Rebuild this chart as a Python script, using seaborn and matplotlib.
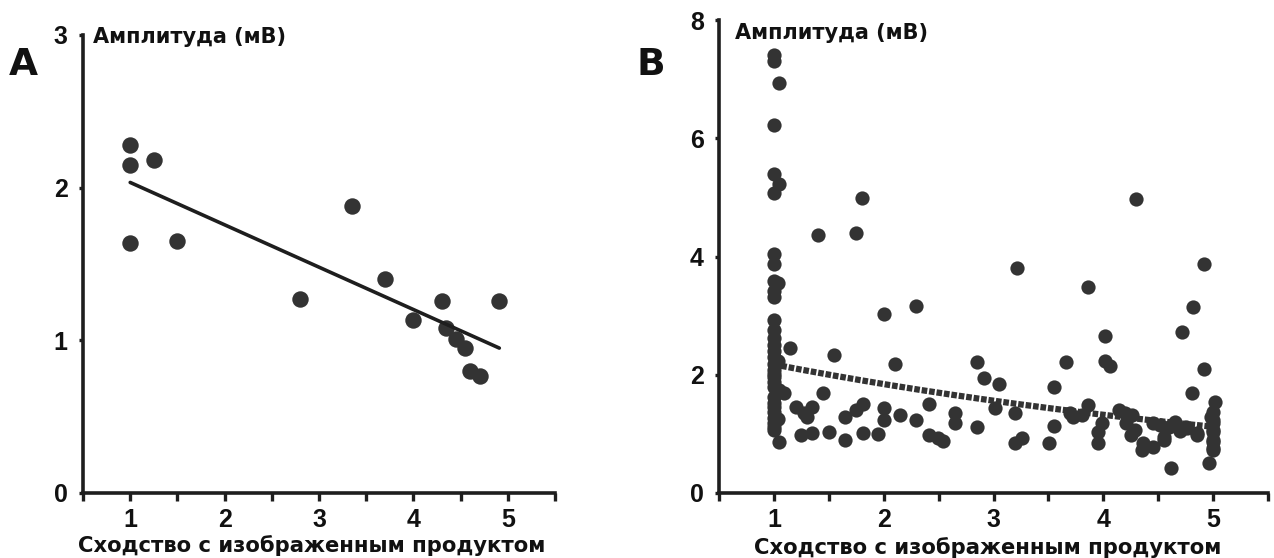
import numpy as np
import pandas as pd
import seaborn as sns
import matplotlib.pyplot as plt
from matplotlib.ticker import MultipleLocator

# ---------------- data ----------------
# Panel A
a_x = [1.0, 1.0, 1.25, 1.0, 1.5, 2.8, 3.35, 3.7, 4.0, 4.3, 4.35, 4.45, 4.55, 4.6, 4.71, 4.91]
a_y = [2.28, 2.15, 2.18, 1.64, 1.65, 1.27, 1.88, 1.40, 1.13, 1.26, 1.08, 1.01, 0.95, 0.80, 0.765, 1.26]

# Panel B - column at x = 1
b_col1_y = [7.40, 7.30, 6.22, 5.40, 5.08, 4.05, 3.88, 3.59, 3.42, 3.31, 2.92, 2.75, 2.63,
            2.50, 2.40, 2.30, 2.19, 2.08, 2.02, 1.96, 1.88, 1.79, 1.62, 1.52, 1.45, 1.37,
            1.27, 1.18, 1.12, 1.06]
# Panel B - remaining points
b_x = [1.05, 1.05, 1.04, 1.05, 1.04, 1.05, 1.09, 1.04,
       1.15, 1.40, 1.75, 1.80, 1.55, 1.45, 1.20, 1.27, 1.35, 1.30,
       1.65, 1.75, 1.81, 2.00, 2.00, 2.15, 2.29, 1.25, 1.35, 1.50, 1.65, 1.81, 1.95,
       2.00, 2.29, 2.10, 3.21, 2.85, 2.91, 3.05, 3.66, 3.55, 2.41, 2.65, 2.65, 3.01,
       3.20, 2.85, 2.41, 2.49, 2.54, 3.20, 3.26, 3.55, 3.51, 3.72,
       4.92, 3.86, 4.82, 4.72, 4.02, 4.02, 4.06, 4.92, 4.81, 3.86, 3.70, 3.81, 4.14,
       4.20, 4.26, 3.99, 3.95, 3.95, 4.21, 4.29, 4.25, 4.45, 4.52, 4.65, 4.75, 4.85,
       4.36, 4.35, 4.45, 4.55, 4.62, 4.96, 4.30, 4.60, 4.70, 4.76, 4.85, 4.55,
       5.02, 5.00, 4.98, 5.00, 5.00, 5.00, 5.00, 5.00, 5.00, 5.00, 5.00]
b_y = [6.94, 5.23, 3.56, 1.74, 1.25, 0.86, 1.69, 2.24,
       2.45, 4.36, 4.39, 4.99, 2.33, 1.69, 1.45, 1.35, 1.45, 1.28,
       1.28, 1.40, 1.50, 1.43, 1.23, 1.32, 1.23, 0.98, 1.01, 1.03, 0.89, 1.01, 1.00,
       3.02, 3.17, 2.18, 3.80, 2.21, 1.94, 1.85, 2.21, 1.79, 1.50, 1.35, 1.18, 1.43,
       1.35, 1.11, 0.98, 0.93, 0.88, 0.85, 0.93, 1.13, 0.84, 1.28,
       3.88, 3.49, 3.14, 2.73, 2.65, 2.24, 2.14, 2.09, 1.69, 1.48, 1.35, 1.32, 1.41,
       1.35, 1.32, 1.18, 1.03, 0.84, 1.18, 1.06, 0.98, 1.18, 1.15, 1.20, 1.11, 1.01,
       0.84, 0.73, 0.78, 0.89, 0.42, 0.51, 4.98, 1.12, 1.05, 1.10, 0.98, 0.95,
       1.54, 1.37, 1.28, 1.23, 1.18, 1.06, 1.03, 0.89, 0.86, 0.76, 0.73]

a_xticks = [1, 2, 3, 4, 5]
a_yticks = [0, 1, 2, 3]
b_yticks = [0, 2, 4, 6, 8]
y_title = "Амплитуда (мВ)"
x_title = "Сходство с изображенным продуктом"

dfA = pd.DataFrame({"x": a_x, "y": a_y})
dfB = pd.DataFrame({"x": [1.0] * len(b_col1_y) + b_x, "y": b_col1_y + b_y})

# exponential (log-amplitude) fit for panel B, derived from the data
bB, aB = np.polyfit(dfB["x"], np.log(dfB["y"]), 1)
fitB_x = np.linspace(dfB["x"].min(), dfB["x"].max(), 200)
fitB = pd.DataFrame({"x": fitB_x, "y": np.exp(aB + bB * fitB_x)})

# ---------------- style ----------------
sns.set_theme(style="ticks")
plt.rcParams['font.family'] = ['DejaVu Sans']
W, H = 1274, 558
fig = plt.figure(figsize=(W / 100, H / 100), dpi=100)
fig.patch.set_facecolor("white")

axA = fig.add_axes([83 / W, 1 - 493 / H, (555 - 83) / W, (493 - 35) / H])
axB = fig.add_axes([719 / W, 1 - 493 / H, (1268 - 719) / W, (493 - 20) / H])

dot = "#333333"
sns.regplot(data=dfA, x="x", y="y", ax=axA, ci=None, color=dot,
            scatter_kws=dict(s=140, linewidths=0, alpha=1),
            line_kws=dict(color="#1e1e1e", lw=2.6))
sns.scatterplot(data=dfB, x="x", y="y", ax=axB, color=dot, s=105,
                linewidth=0, alpha=1, zorder=2)
sns.lineplot(data=fitB, x="x", y="y", ax=axB, color="#333333", lw=4.5,
             linestyle=(0, (0.9, 0.3)), zorder=3)

for ax, yt, ylim in [(axA, a_yticks, (0, 3)), (axB, b_yticks, (0, 8))]:
    ax.set_xlim(0.5, 5.5)
    ax.set_ylim(*ylim)
    ax.set_xticks(a_xticks)
    ax.set_xticklabels([str(t) for t in a_xticks])
    ax.xaxis.set_minor_locator(MultipleLocator(0.5))
    ax.set_yticks(yt)
    ax.set_yticklabels([str(t) for t in yt])
    ax.set_xlabel("")
    ax.set_ylabel("")
    sns.despine(ax=ax)
    for s in ("left", "bottom"):
        ax.spines[s].set_linewidth(2.6)
        ax.spines[s].set_color("#1e1e1e")
    ax.tick_params(axis="x", which="both", direction="out", length=6, width=2.4,
                   color="#1e1e1e", pad=5)
    ax.tick_params(axis="y", which="both", direction="out", length=3, width=2.4,
                   color="#1e1e1e", pad=8)
    for lab in ax.get_xticklabels() + ax.get_yticklabels():
        lab.set_fontsize(18)
        lab.set_fontweight("bold")
        lab.set_color("#111111")
        lab.set_family(["Liberation Sans", "DejaVu Sans"])
    ax.set_facecolor("white")
    ax.grid(False)

# axis titles
fig.text(93 / W, 1 - 37 / H, y_title, ha="left", va="center", fontsize=15,
         fontweight="bold", color="#111111")
fig.text(735 / W, 1 - 33 / H, y_title, ha="left", va="center", fontsize=15,
         fontweight="bold", color="#111111")
fig.text(312 / W, 1 - 546 / H, x_title, ha="center", va="center", fontsize=15.2,
         fontweight="bold", color="#111111")
fig.text(988 / W, 1 - 548 / H, x_title, ha="center", va="center", fontsize=15.2,
         fontweight="bold", color="#111111")

# panel letters
fig.text(23 / W, 1 - 65 / H, "A", ha="center", va="center", fontsize=27,
         fontweight="bold", color="#111111")
fig.text(651 / W, 1 - 65 / H, "B", ha="center", va="center", fontsize=27,
         fontweight="bold", color="#111111")

fig.savefig("out.png", dpi=100, facecolor="white")
